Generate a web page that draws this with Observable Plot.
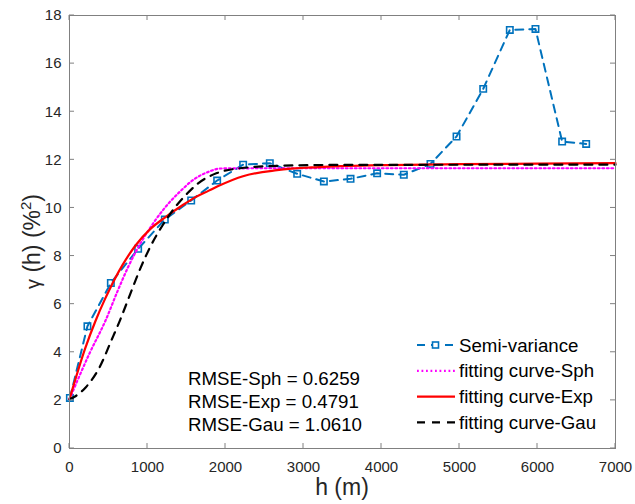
<!DOCTYPE html>
<html>
<head>
<meta charset="utf-8">
<script src="https://cdn.jsdelivr.net/npm/d3@7"></script>
<script src="https://cdn.jsdelivr.net/npm/@observablehq/plot@0.6"></script>
<style>
  html, body { margin: 0; padding: 0; background: #fff; }
  svg { font-family: "Liberation Sans", Arial, sans-serif; }
</style>
</head>
<body>
<div id="chart"></div>
<script>
// ---- data ----
const lagH    = [5, 230, 530, 880, 1222, 1560, 1893, 2226, 2568, 2919, 3261, 3603, 3944, 4286, 4628, 4962, 5304, 5645, 5974, 6316, 6624];
const semiVar = [2.10, 5.08, 6.88, 8.30, 9.52, 10.31, 11.14, 11.80, 11.86, 11.42, 11.10, 11.21, 11.44, 11.38, 11.83, 12.97, 14.95, 17.40, 17.44, 12.76, 12.66];

const sphH = [0, 256, 462, 611, 760, 932, 1103, 1273, 1423, 1600, 1780, 1940, 2500, 4000, 7000];
const sphG = [2.05, 3.95, 5.32, 6.50, 7.60, 8.65, 9.50, 10.20, 10.70, 11.20, 11.50, 11.64, 11.65, 11.65, 11.65];

const expH = [0, 200, 333, 453, 504, 675, 846, 1038, 1231, 1444, 1615, 1786, 1900, 2235, 2660, 3200, 4000, 5000, 6000, 7000];
const expG = [2.05, 4.15, 5.30, 6.20, 6.55, 7.60, 8.44, 9.13, 9.62, 10.10, 10.45, 10.72, 10.90, 11.33, 11.57, 11.70, 11.78, 11.82, 11.84, 11.86];

const gauH = [0, 64, 210, 389, 538, 650, 782, 910, 1038, 1188, 1359, 1509, 1640, 1890, 2190, 2750, 3500, 7000];
const gauG = [2.05, 2.15, 2.55, 3.40, 4.50, 5.35, 6.45, 7.50, 8.40, 9.25, 10.05, 10.60, 11.00, 11.45, 11.65, 11.76, 11.79, 11.80];

const xTicks = [0, 1000, 2000, 3000, 4000, 5000, 6000, 7000];
const yTicks = [0, 2, 4, 6, 8, 10, 12, 14, 16, 18];

const legendLabels = ["Semi-variance", "fitting curve-Sph", "fitting curve-Exp", "fitting curve-Gau"];
const rmseLabels = ["RMSE-Sph = 0.6259", "RMSE-Exp = 0.4791", "RMSE-Gau = 1.0610"];

const toRows = (xs, ys) => xs.map((h, i) => ({h, g: ys[i]}));
const semi = toRows(lagH, semiVar);
const sph = toRows(sphH, sphG);
const exp = toRows(expH, expG);
const gau = toRows(gauH, gauG);

const BLUE = "#0072BD", MAG = "#FF00FF", RED = "#FF0000", BLACK = "#000000";
const AXIS = "#808080", TXT = "#262626";

const plot = Plot.plot({
  width: 635,
  height: 504,
  marginLeft: 69,
  marginRight: 20,
  marginTop: 15,
  marginBottom: 56,
  style: {fontFamily: "Liberation Sans, Arial, sans-serif", background: "#fff", color: TXT},
  x: {domain: [0, 7000]},
  y: {domain: [0, 18]},
  marks: [
    Plot.axisX({ticks: xTicks, tickSize: 0, tickPadding: 13, fontSize: 15, label: null, tickFormat: d => String(d), fill: TXT}),
    Plot.axisY({ticks: yTicks, tickSize: 0, tickPadding: 8, fontSize: 15, label: null, tickFormat: d => String(d), fill: TXT}),
    Plot.line(semi, {x: "h", y: "g", stroke: BLUE, strokeWidth: 2, strokeDasharray: "8,6"}),
    Plot.dot(semi, {x: "h", y: "g", symbol: "square", r: 3.6, stroke: BLUE, strokeWidth: 1.6, fill: "none"}),
    Plot.line(sph, {x: "h", y: "g", stroke: MAG, strokeWidth: 2.2, strokeDasharray: "1.8,2.7", curve: "monotone-x"}),
    Plot.line(exp, {x: "h", y: "g", stroke: RED, strokeWidth: 2.2, curve: "monotone-x"}),
    Plot.line(gau, {x: "h", y: "g", stroke: BLACK, strokeWidth: 2.2, strokeDasharray: "8,7", curve: "monotone-x"}),
    Plot.frame({stroke: AXIS, strokeWidth: 1})
  ]
});

document.getElementById("chart").appendChild(plot);

const sx = plot.scale("x"), sy = plot.scale("y");
const svg = d3.select(plot);
const x0 = sx.apply(0), x1 = sx.apply(7000), y0 = sy.apply(0), y1 = sy.apply(18);

// inward ticks on all four sides (MATLAB box style)
const tg = svg.append("g").attr("stroke", AXIS).attr("stroke-width", 1);
xTicks.forEach(t => {
  const px = sx.apply(t);
  tg.append("line").attr("x1", px).attr("x2", px).attr("y1", y0).attr("y2", y0 - 5);
  tg.append("line").attr("x1", px).attr("x2", px).attr("y1", y1).attr("y2", y1 + 5);
});
yTicks.forEach(t => {
  const py = sy.apply(t);
  tg.append("line").attr("x1", x0).attr("x2", x0 + 5).attr("y1", py).attr("y2", py);
  tg.append("line").attr("x1", x1).attr("x2", x1 - 5).attr("y1", py).attr("y2", py);
});

// axis labels
svg.append("text")
  .attr("x", (x0 + x1) / 2).attr("y", 495)
  .attr("text-anchor", "middle").attr("font-size", 23).attr("fill", TXT)
  .text("h (m)");

const yl = svg.append("text")
  .attr("transform", `translate(40,${(y0 + y1) / 2 + 10}) rotate(-90)`)
  .attr("text-anchor", "middle").attr("font-size", 23).attr("fill", TXT);
yl.append("tspan").attr("font-size", 20).text("γ");
yl.append("tspan").text(" (h) (%");
yl.append("tspan").attr("font-size", 15).attr("dy", -9).text("2");
yl.append("tspan").attr("dy", 9).text(")");

// RMSE annotations
const rg = svg.append("g").attr("font-size", 18.7).attr("fill", "#000").attr("text-anchor", "start");
rmseLabels.forEach((s, i) => {
  rg.append("text").attr("x", 188).attr("y", 378.5 + i * 23).attr("dy", "0.35em").text(s);
});

// legend
const lg = svg.append("g").attr("font-size", 18.7).attr("text-anchor", "start");
const styles = [
  {stroke: BLUE, dash: "8,6", marker: true},
  {stroke: MAG, dash: "1.8,2.7"},
  {stroke: RED, dash: null},
  {stroke: BLACK, dash: "8,7"}
];
legendLabels.forEach((s, i) => {
  const cy = 345 + i * 25.8;
  const st = styles[i];
  const ln = lg.append("line").attr("x1", 417).attr("x2", 455).attr("y1", cy).attr("y2", cy)
    .attr("stroke", st.stroke).attr("stroke-width", 2.2);
  if (st.dash) ln.attr("stroke-dasharray", st.dash);
  if (st.marker) {
    lg.append("rect").attr("x", 432.5).attr("y", cy - 3).attr("width", 6).attr("height", 6)
      .attr("fill", "#fff").attr("stroke", BLUE).attr("stroke-width", 1.6);
  }
  lg.append("text").attr("x", 459).attr("y", cy).attr("dy", "0.35em").attr("fill", "#000").text(s);
});
</script>
</body>
</html>
